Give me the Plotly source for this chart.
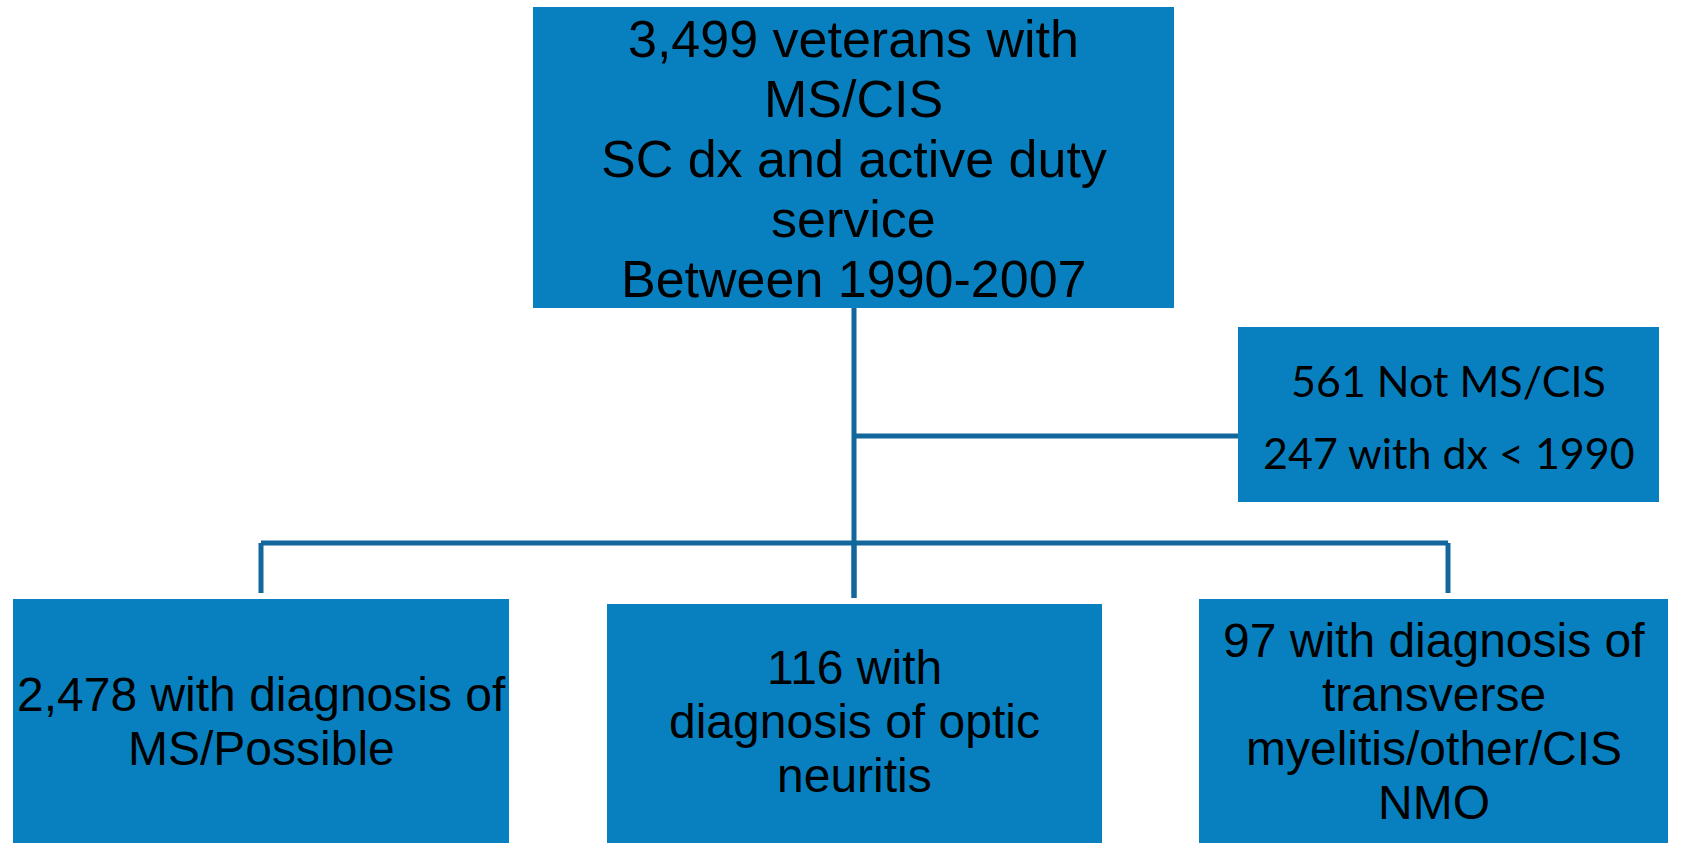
import plotly.graph_objects as go

# ---- content (data) ----
top_lines = ["3,499 veterans with", "MS/CIS", "SC dx and active duty", "service", "Between 1990-2007"]
excluded_lines = ["561 Not MS/CIS", "247 with dx < 1990"]
outcome_lines = [
    ["2,478 with diagnosis of", "MS/Possible"],
    ["116 with", "diagnosis of optic", "neuritis"],
    ["97 with diagnosis of", "transverse", "myelitis/other/CIS", "NMO"],
]

# ---- layout geometry (pixels, page coordinates) ----
W, H = 1684, 843
top_box = dict(x0=533, x1=1174, y0=7, y1=308)
excl_box = dict(x0=1238, x1=1659, y0=327, y1=502)
out_boxes = [
    dict(x0=13, x1=509, y0=599, y1=843),
    dict(x0=607, x1=1102, y0=604, y1=843),
    dict(x0=1199, x1=1668, y0=599, y1=843),
]
trunk_x = 854
branch_y = 436
bar_y = 543
drop_xs = [261, 854, 1448]
drop_ends = [593, 598, 593]

BOX = "#0880C0"
LINE = "#12679C"
LW = 5

fig = go.Figure()
shapes = []
annotations = []

def add_box(b):
    shapes.append(dict(type="rect", xref="x", yref="y", x0=b["x0"], x1=b["x1"],
                       y0=b["y0"], y1=b["y1"], fillcolor=BOX, line=dict(width=0), layer="below"))

def add_line(x0, y0, x1, y1):
    shapes.append(dict(type="line", xref="x", yref="y", x0=x0, y0=y0, x1=x1, y1=y1,
                       line=dict(color=LINE, width=LW)))

def add_text(b, lines, spacing, size, family, yc=None):
    cx = (b["x0"] + b["x1"]) / 2
    cy = (b["y0"] + b["y1"]) / 2 if yc is None else yc
    n = len(lines)
    for i, t in enumerate(lines):
        y = cy + (i - (n - 1) / 2) * spacing
        annotations.append(dict(x=cx, y=y, xref="x", yref="y", text=t, showarrow=False,
                                xanchor="center", yanchor="middle",
                                font=dict(family=family, size=size, color="black")))

# connectors
add_line(trunk_x, top_box["y1"], trunk_x, drop_ends[1])
add_line(trunk_x, branch_y, excl_box["x0"], branch_y)
add_line(drop_xs[0], bar_y, drop_xs[-1], bar_y)
for dx, de in zip(drop_xs, drop_ends):
    add_line(dx, bar_y, dx, de)

# boxes
add_box(top_box)
add_box(excl_box)
for b in out_boxes:
    add_box(b)

ARIAL = "Liberation Sans, Arial, sans-serif"
add_text(top_box, top_lines, 60, 52, ARIAL, yc=159)
add_text(excl_box, excluded_lines, 72, 43, "Lato, Carlito, Calibri, sans-serif", yc=416)
for b, lines in zip(out_boxes, outcome_lines):
    add_text(b, lines, 54, 48, ARIAL, yc=721)

fig.update_layout(
    width=W, height=H,
    margin=dict(l=0, r=0, t=0, b=0),
    paper_bgcolor="white", plot_bgcolor="white",
    xaxis=dict(range=[0, W], visible=False, fixedrange=True),
    yaxis=dict(range=[H, 0], visible=False, fixedrange=True),
    shapes=shapes, annotations=annotations, showlegend=False,
)
fig.write_html("out.html", config={"displayModeBar": False},
               post_script="document.body.style.margin='0';document.body.style.overflow='hidden';")
